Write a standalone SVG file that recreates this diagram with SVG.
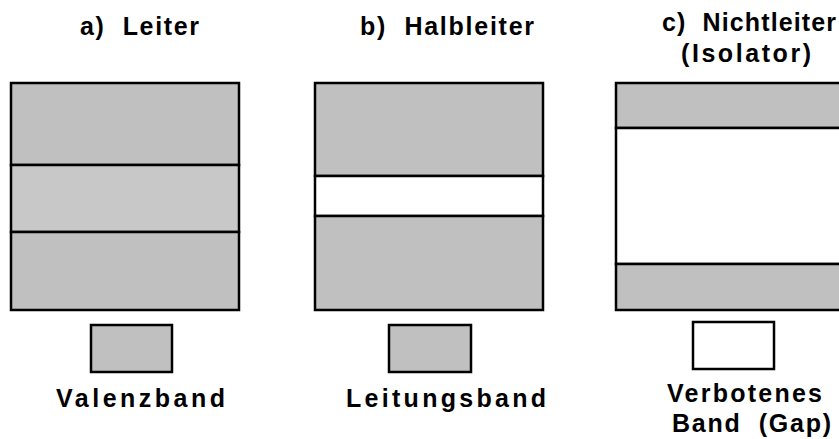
<svg xmlns="http://www.w3.org/2000/svg" width="839" height="439" viewBox="0 0 839 439">
<style>
text{font-family:"Liberation Sans",Arial,sans-serif;font-weight:bold;font-size:25px;fill:#000}
.g{fill:#c0c0c0;stroke:#000;stroke-width:2.5}
.l{fill:#c8c8c8;stroke:#000;stroke-width:2.5}
.w{fill:#fff;stroke:#000;stroke-width:2.5}
</style>
<rect width="839" height="439" fill="#fff"/>
<g id="title-a"><text x="80" y="35" textLength="119" lengthAdjust="spacing" xml:space="preserve">a)  Leiter</text></g>
<g id="title-b"><text x="360" y="35" textLength="174" lengthAdjust="spacing" xml:space="preserve">b)  Halbleiter</text></g>
<g id="title-c"><text x="662" y="31" textLength="174" lengthAdjust="spacing" xml:space="preserve">c)  Nichtleiter</text><text x="681" y="62" textLength="130" lengthAdjust="spacing">(Isolator)</text></g>
<g id="leiter">
<rect class="g" x="11" y="83" width="228" height="82"/>
<rect class="l" x="11" y="165" width="228" height="67"/>
<rect class="g" x="11" y="232" width="228" height="78"/>
</g>
<g id="halbleiter">
<rect class="g" x="315" y="83" width="228" height="93"/>
<rect class="w" x="315" y="176" width="228" height="40"/>
<rect class="g" x="315" y="216" width="228" height="94"/>
</g>
<g id="nichtleiter">
<rect class="g" x="616" y="83" width="240" height="45"/>
<rect class="w" x="616" y="128" width="240" height="136"/>
<rect class="g" x="616" y="264" width="240" height="46"/>
</g>
<g id="legend-valenz"><rect class="g" x="91" y="325" width="81" height="47"/><text x="56" y="407" textLength="169" lengthAdjust="spacing">Valenzband</text></g>
<g id="legend-leitung"><rect class="g" x="389" y="325" width="82" height="47"/><text x="346" y="407" textLength="200" lengthAdjust="spacing">Leitungsband</text></g>
<g id="legend-gap"><rect class="w" x="693" y="322" width="81" height="47"/><text x="667" y="402" textLength="155" lengthAdjust="spacing">Verbotenes</text><text x="672" y="432" textLength="159" lengthAdjust="spacing" xml:space="preserve">Band  (Gap)</text></g>
</svg>
